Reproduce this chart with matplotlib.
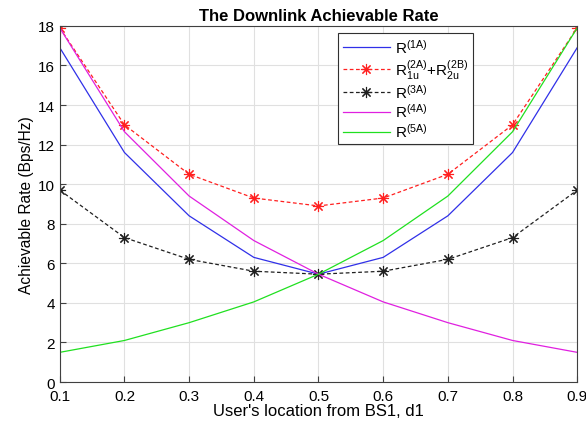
import matplotlib
matplotlib.use("Agg")
import matplotlib.pyplot as plt

plt.rcParams['font.family'] = ['Liberation Sans', 'DejaVu Sans']
plt.rcParams['mathtext.fontset'] = 'custom'
plt.rcParams['mathtext.rm'] = 'Liberation Sans'
plt.rcParams['mathtext.it'] = 'Liberation Sans'

# user position d1
d1 = [0.1, 0.2, 0.3, 0.4, 0.5, 0.6, 0.7, 0.8, 0.9]

r1a = [16.9, 11.6, 8.4, 6.3, 5.45, 6.3, 8.4, 11.6, 16.9]
r2sum = [17.9, 13.0, 10.5, 9.3, 8.9, 9.3, 10.5, 13.0, 17.9]
r3a = [9.7, 7.3, 6.2, 5.6, 5.45, 5.6, 6.2, 7.3, 9.7]
r4a = [17.9, 12.65, 9.4, 7.15, 5.45, 4.05, 3.0, 2.1, 1.5]
r5a = [1.5, 2.1, 3.0, 4.05, 5.45, 7.15, 9.4, 12.65, 17.9]

labels = [r'R$^{\mathrm{(1A)}}$',
          r'R$^{\mathrm{(2A)}}_{\mathrm{1u}}$+R$^{\mathrm{(2B)}}_{\mathrm{2u}}$',
          r'R$^{\mathrm{(3A)}}$',
          r'R$^{\mathrm{(4A)}}$',
          r'R$^{\mathrm{(5A)}}$']

fig = plt.figure(figsize=(5.86, 4.27), dpi=100)
ax = fig.add_axes([0.102, 0.103, 0.883, 0.834])

star = (8, 2, 0)
ax.plot(d1, r1a, color='#3030e8', lw=0.9, label=labels[0])
ax.plot(d1, r2sum, color='#ff2020', lw=0.9, ls=(0, (3, 2)), marker=star, ms=8,
        mew=0.8, label=labels[1])
ax.plot(d1, r3a, color='#202020', lw=0.9, ls=(0, (3, 2)), marker=star, ms=8,
        mew=0.8, label=labels[2])
ax.plot(d1, r4a, color='#e020e0', lw=0.9, label=labels[3])
ax.plot(d1, r5a, color='#20e020', lw=0.9, label=labels[4])

ax.set_xlim(0.1, 0.9)
ax.set_ylim(0, 18)
ax.set_xticks(d1)
ax.set_xticklabels(['0.1', '0.2', '0.3', '0.4', '0.5', '0.6', '0.7', '0.8', '0.9'])
ax.set_yticks(range(0, 19, 2))
ax.grid(True, color='#e0e0e0', lw=0.8)
ax.tick_params(direction='in', labelsize=11, length=4, color='#404040')
ax.tick_params(axis='x', pad=5)
for s in ax.spines.values():
    s.set_color('#404040')
    s.set_linewidth(0.8)

ax.set_xlabel("User's location from BS1, d1", fontsize=12, labelpad=0)
ax.set_ylabel("Achievable Rate (Bps/Hz)", fontsize=11.2, labelpad=3)
ax.set_title("The Downlink Achievable Rate", fontsize=12, fontweight='bold', pad=4)

leg = ax.legend(loc='upper left', bbox_to_anchor=(0.538, 0.98), fontsize=11,
                fancybox=False, edgecolor='#303030', framealpha=1,
                handlelength=3.1, handletextpad=0.3, borderpad=0.3,
                labelspacing=0.12, borderaxespad=0)
leg.get_frame().set_linewidth(0.8)

fig.savefig('out.png', dpi=100)
